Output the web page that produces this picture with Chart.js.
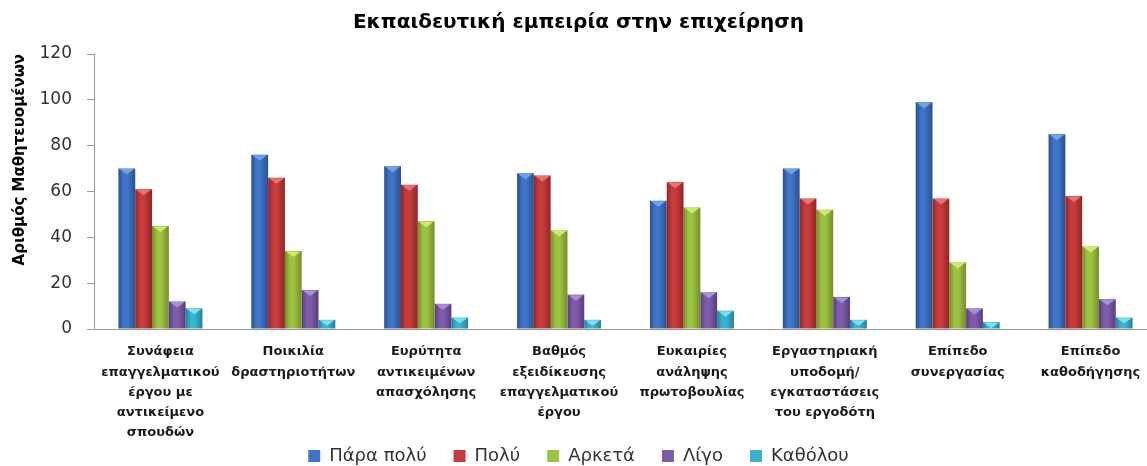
<!DOCTYPE html>
<html>
<head>
<meta charset="utf-8">
<script src="https://cdn.jsdelivr.net/npm/chart.js@4/dist/chart.umd.min.js"></script>
<style>
  html, body { margin: 0; padding: 0; background: #ffffff; }
  #wrap { width: 1147px; height: 466px; overflow: hidden; position: relative; }
  #box { width: 1176px; height: 504px; position: absolute; left: 0; top: 0; }
</style>
</head>
<body>
<div id="wrap"><div id="box"><canvas id="c"></canvas></div></div>
<script>
// ---- data ----
const chartTitle = 'Εκπαιδευτική εμπειρία στην επιχείρηση';
const yAxisTitle = 'Αριθμός Μαθητευομένων';
const categories = [
  ['Συνάφεια', 'επαγγελματικού', 'έργου με', 'αντικείμενο', 'σπουδών'],
  ['Ποικιλία', 'δραστηριοτήτων'],
  ['Ευρύτητα', 'αντικειμένων', 'απασχόλησης'],
  ['Βαθμός', 'εξειδίκευσης', 'επαγγελματικού', 'έργου'],
  ['Ευκαιρίες', 'ανάληψης', 'πρωτοβουλίας'],
  ['Εργαστηριακή', 'υποδομή/', 'εγκαταστάσεις', 'του εργοδότη'],
  ['Επίπεδο', 'συνεργασίας'],
  ['Επίπεδο', 'καθοδήγησης']
];
const seriesNames = ['Πάρα πολύ', 'Πολύ', 'Αρκετά', 'Λίγο', 'Καθόλου'];
const paraPoly = [70, 76, 71, 68, 56, 70, 99, 85];
const poly     = [61, 66, 63, 67, 64, 57, 57, 58];
const arketa   = [45, 34, 47, 43, 53, 52, 29, 36];
const ligo     = [12, 17, 11, 15, 16, 14,  9, 13];
const katholou = [ 9,  4,  5,  4,  8,  4,  3,  5];
const yMin = 0, yMax = 120, yStep = 20;

// ---- styles ----
const baseColors  = ['#3f74c6', '#c63b3b', '#9dc142', '#7e5ca9', '#3ab3cf'];
const darkColors  = ['#29508f', '#932525', '#728f27', '#573d7f', '#23829a'];
const lightColors = ['#6fa3ea', '#ea7272', '#cfea66', '#ab8fd6', '#7ddff2'];
const seriesValues = [paraPoly, poly, arketa, ligo, katholou];

const barShade = {
  id: 'barShade',
  afterLayout(chart) {
    const lg = chart.legend;
    if (lg) { lg.top -= 24; lg.bottom -= 24; }
  },
  beforeDatasetsDraw(chart) {
    const ctx = chart.ctx;
    chart.data.datasets.forEach((ds, di) => {
      const meta = chart.getDatasetMeta(di);
      meta.data.forEach(el => {
        const p = el.getProps(['x', 'width'], true);
        if (!isFinite(p.x) || !isFinite(p.width)) return;
        const g = ctx.createLinearGradient(p.x - p.width / 2, 0, p.x + p.width / 2, 0);
        g.addColorStop(0, darkColors[di]);
        g.addColorStop(0.3, baseColors[di]);
        g.addColorStop(0.55, baseColors[di]);
        g.addColorStop(1, darkColors[di]);
        el.options = Object.assign({}, el.options, { backgroundColor: g });
      });
    });
  },
  afterDatasetsDraw(chart) {
    const ctx = chart.ctx;
    ctx.save();
    chart.data.datasets.forEach((ds, di) => {
      const meta = chart.getDatasetMeta(di);
      meta.data.forEach(el => {
        const p = el.getProps(['x', 'y', 'width', 'base'], true);
        if (!isFinite(p.x)) return;
        const h = Math.min(6, Math.abs(p.base - p.y));
        const l = p.x - p.width / 2 + 1, r = p.x + p.width / 2 - 1;
        ctx.beginPath();
        ctx.moveTo(l, p.y + 0.5);
        ctx.lineTo(r, p.y + 0.5);
        ctx.lineTo(p.x, p.y + h);
        ctx.closePath();
        ctx.fillStyle = lightColors[di];
        ctx.fill();
      });
    });
    ctx.restore();
  }
};

const datasets = seriesNames.map((name, i) => ({
  label: name,
  data: seriesValues[i],
  backgroundColor: baseColors[i],
  borderWidth: 0,
  barPercentage: 1.0,
  categoryPercentage: 0.632
}));

new Chart(document.getElementById('c'), {
  type: 'bar',
  data: { labels: categories, datasets },
  plugins: [barShade],
  options: {
    responsive: true,
    maintainAspectRatio: false,
    animation: false,
    events: [],
    layout: { padding: { left: 0, right: 19, top: 0, bottom: 5 } },
    plugins: {
      title: {
        display: true,
        text: chartTitle,
        color: '#000000',
        font: { family: 'DejaVu Sans', size: 20, weight: 'bold' },
        padding: { top: 11, bottom: 19 }
      },
      legend: {
        position: 'bottom',
        labels: {
          color: '#333333',
          font: { family: 'DejaVu Sans', size: 18 },
          boxWidth: 12,
          boxHeight: 12,
          padding: 27
        }
      },
      tooltip: { enabled: false }
    },
    scales: {
      x: {
        grid: { display: true, drawOnChartArea: false, drawTicks: false },
        border: { display: true, color: '#9a9a9a', width: 1 },
        ticks: {
          color: '#1a1a1a',
          font: { family: 'DejaVu Sans', size: 13, weight: 'bold', lineHeight: 1.55 },
          padding: 13,
          maxRotation: 0,
          minRotation: 0,
          autoSkip: false
        },
        afterFit(scale) { scale.height = 115; }
      },
      y: {
        min: yMin,
        max: yMax,
        grid: { display: true, drawOnChartArea: false, drawTicks: true, tickLength: 7, color: '#9a9a9a' },
        border: { display: true, color: '#9a9a9a', width: 1 },
        ticks: {
          stepSize: yStep,
          color: '#333333',
          font: { family: 'DejaVu Sans', size: 17 },
          padding: 15
        },
        title: {
          display: true,
          text: yAxisTitle,
          align: 'end',
          color: '#000000',
          font: { family: 'DejaVu Sans', size: 15, weight: 'bold' },
          padding: { top: 11, bottom: 0 }
        },
        afterFit(scale) { scale.width = 94; }
      }
    }
  }
});
</script>
</body>
</html>
